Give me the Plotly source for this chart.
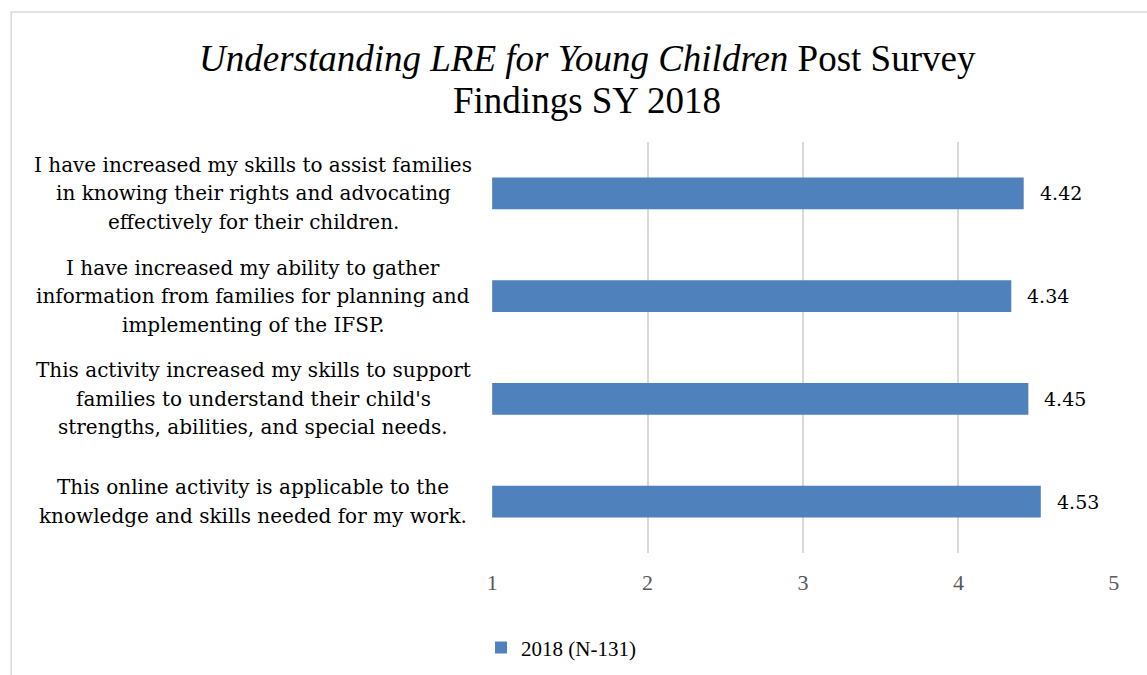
import plotly.graph_objects as go

categories = [
    "I have increased my skills to assist families<br>in knowing their rights and advocating<br>effectively for their children.",
    "I have increased my ability to gather<br>information from families for planning and<br>implementing of the IFSP.",
    "This activity increased my skills to support<br>families to understand their child's<br>strengths, abilities, and special needs.",
    "This online activity is applicable to the<br>knowledge and skills needed for my work.",
]
values = [4.42, 4.34, 4.45, 4.53]
value_labels = ["4.42", "4.34", "4.45", "4.53"]
series_name = "2018 (N-131)"
tick_vals = [1, 2, 3, 4, 5]
axis_min = 1
title_lines = ["<i>Understanding LRE for Young Children</i> Post Survey", "Findings SY 2018"]

FONT = "DejaVu Serif"
TFONT = "Liberation Serif"
BAR = "#4f81bd"
LINE_H = 28.5

fig = go.Figure()
fig.add_trace(go.Bar(
    y=categories, x=[v - axis_min for v in values], base=axis_min,
    orientation="h", name=series_name,
    marker=dict(color=BAR, line=dict(width=0)),
    width=0.31,
))

annotations = []
for c, v, t in zip(categories, values, value_labels):
    annotations.append(dict(x=v, y=c, xref="x", yref="y", text=t, showarrow=False,
                            xanchor="left", xshift=14, font=dict(family=FONT, size=19, color="#000000")))
    lines = c.split("<br>")
    n = len(lines)
    for i, ln in enumerate(lines):
        annotations.append(dict(x=-0.384, y=c, xref="paper", yref="y", text=ln, showarrow=False,
                                xanchor="center", yanchor="middle", yshift=-(i - (n - 1) / 2) * LINE_H,
                                font=dict(family=FONT, size=20, color="#000000")))
for ty, tl in zip([1.204, 1.102], title_lines):
    annotations.append(dict(
        x=0.153, y=ty, xref="paper", yref="paper", text=tl,
        showarrow=False, xanchor="center", yanchor="middle",
        font=dict(family=TFONT, size=37, color="#000000")))

fig.update_layout(
    width=1147, height=675,
    margin=dict(l=492, r=33, t=142, b=122, autoexpand=False),
    paper_bgcolor="white", plot_bgcolor="white",
    xaxis=dict(range=[0.999, 5.001], tickvals=tick_vals, showgrid=True, gridcolor="#d9d9d9", gridwidth=1.5,
               zeroline=False, showline=False, ticks="", ticklabelstandoff=14,
               tickfont=dict(family=TFONT, size=22, color="#595959")),
    yaxis=dict(autorange="reversed", showticklabels=False, showgrid=False, zeroline=False,
               showline=False, ticks=""),
    showlegend=True,
    legend=dict(orientation="h", x=0.111, xanchor="center", y=-0.231, yanchor="middle",
                font=dict(family=TFONT, size=21, color="#000000"), itemwidth=30),
    annotations=annotations,
    shapes=[dict(type="rect", xref="paper", yref="paper", x0=-0.773, x1=1.2, y0=-0.5, y1=1.316,
                 line=dict(color="#d9d9d9", width=1.5), fillcolor="rgba(0,0,0,0)", layer="below")],
)

fig.write_html("out.html")
